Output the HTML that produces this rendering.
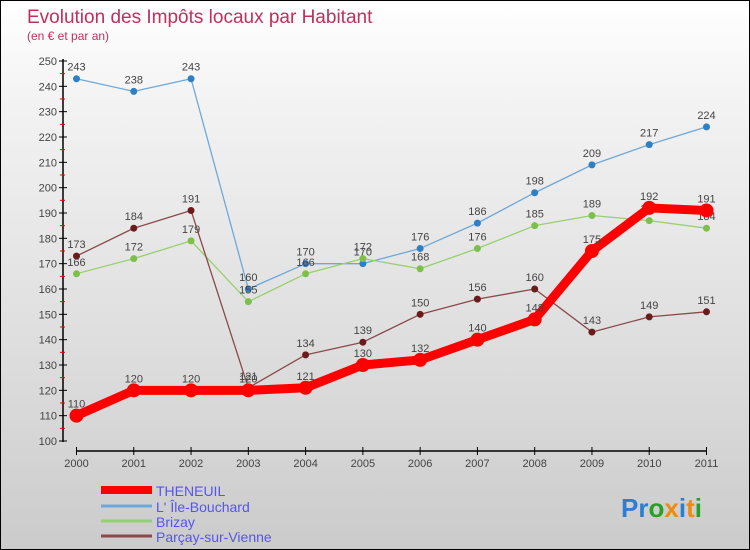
<!DOCTYPE html>
<html><head><meta charset="utf-8"><style>
body{margin:0}
#c{width:750px;height:550px;position:relative;box-sizing:border-box;border:1px solid #000;background:linear-gradient(#fff,#f2f2f2 20%,#d8d8d8 75%,#cbcbcb);font-family:"Liberation Sans","DejaVu Sans",sans-serif;overflow:hidden}
svg text{font-family:"Liberation Sans",sans-serif}
</style></head><body>
<div id="c">
<svg id="s" width="750" height="550">
<text x="26" y="22" font-size="19" fill="#c0305a">Evolution des Impôts locaux par Habitant</text>
<text x="26" y="39" font-size="12" fill="#c0305a">(en € et par an)</text>
<g id="g"></g>
<text x="620" y="516" font-size="26" font-weight="bold"><tspan fill="#2a7fd0">Pr</tspan><tspan fill="#2aa02a">o</tspan><tspan fill="#f08a10">x</tspan><tspan fill="#2a7fd0">i</tspan><tspan fill="#f08a10">t</tspan><tspan fill="#2aa02a">i</tspan></text>
</svg>
</div>
<script>
const years=[2000,2001,2002,2003,2004,2005,2006,2007,2008,2009,2010,2011];
const theneuil=[110,120,120,120,121,130,132,140,148,175,192,191];
const ileBouchard=[243,238,243,160,170,170,176,186,198,209,217,224];
const brizay=[166,172,179,155,166,172,168,176,185,189,187,184];
const parcay=[173,184,191,121,134,139,150,156,160,143,149,151];
const yTicks=[100,110,120,130,140,150,160,170,180,190,200,210,220,230,240,250];
const names=["THENEUIL","L' Île-Bouchard","Brizay","Parçay-sur-Vienne"];
const NS="http://www.w3.org/2000/svg";
const g=document.getElementById('g');
const X=i=>75.5+i*(630/11);
const Y=v=>440-(v-100)*(380/150);
function el(t,a,p){const e=document.createElementNS(NS,t);for(const k in a)e.setAttribute(k,a[k]);(p||g).appendChild(e);return e;}
let ax=el('line',{x1:62,y1:58,x2:62,y2:441,stroke:'#000','stroke-width':1.5});


let xa=el('line',{x1:75,y1:450,x2:706,y2:450,stroke:'#000','stroke-width':1.5});


yTicks.forEach((v,k)=>{
  el('line',{x1:58,y1:Y(v),x2:66,y2:Y(v),stroke:'#000'});
  if(k<yTicks.length-1)el('line',{x1:59,y1:Y(v+5),x2:64,y2:Y(v+5),stroke:'#e00'});
  const t=el('text',{x:56,y:Y(v)+4,'font-size':11,'text-anchor':'end',fill:'#444'});
  t.textContent=v;
  
  
});
years.forEach((yr,i)=>{
  el('line',{x1:X(i),y1:446,x2:X(i),y2:454,stroke:'#000'});
  const t=el('text',{x:X(i),y:466,'font-size':11,'text-anchor':'middle',fill:'#444'});
  t.textContent=yr;
  
  
});
const series=[
 {d:ileBouchard,c:'#6fa8d8',m:'#2f7fc4',w:1.3,r:3.5,n:'ile-bouchard'},
 {d:brizay,c:'#96d070',m:'#7cc04a',w:1.3,r:3.5,n:'brizay'},
 {d:parcay,c:'#8a4a4a',m:'#6a1c1c',w:1.3,r:3.5,n:'parcay'},
 {d:theneuil,c:'#f00',m:'#f00',w:9,r:7,n:'theneuil'}
];
series.forEach(s=>{
  const p=el('polyline',{points:s.d.map((v,i)=>X(i)+','+Y(v)).join(' '),fill:'none',stroke:s.c,'stroke-width':s.w,'stroke-linejoin':'round'});
  
  
  s.d.forEach((v,i)=>{
    const c=el('circle',{cx:X(i),cy:Y(v),r:s.r,fill:s.m});
    
    
    const t=el('text',{x:X(i),y:Y(v)-8,'font-size':11,'text-anchor':'middle',fill:'#444'});
    t.textContent=v;
    
    
  });
});
const lc=['#f00','#6fa8d8','#96d070','#8a4a4a'],lw=[8,3,3,3],ly=[492,508,523,538];
names.forEach((n,k)=>{
  el('line',{x1:100,y1:ly[k]-3,x2:151,y2:ly[k]-3,stroke:lc[k],'stroke-width':lw[k]});
  const t=el('text',{x:155,y:ly[k]+3,'font-size':14,fill:'#5555ee'});
  t.textContent=n;
  
  
});
</script>
</body></html>
